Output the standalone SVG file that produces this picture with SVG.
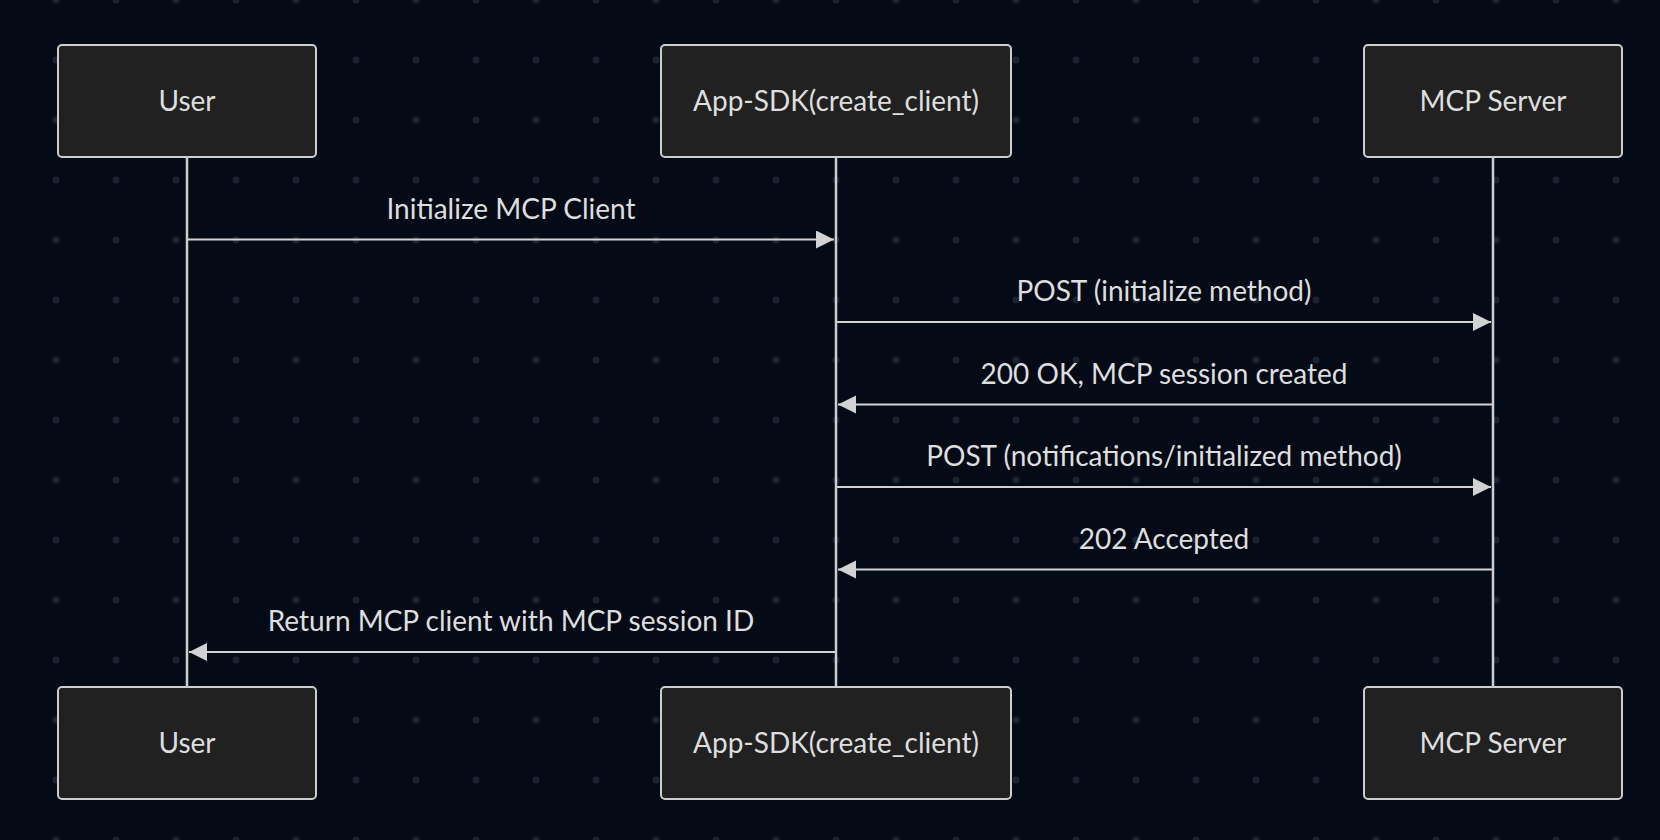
<svg xmlns="http://www.w3.org/2000/svg" width="1660" height="840" viewBox="0 0 1660 840">
  <defs>
    <pattern id="dots" patternUnits="userSpaceOnUse" x="26" y="-30" width="60" height="60">
      <circle cx="30" cy="30" r="3.5" fill="#1d2130"/>
    </pattern>
    <marker id="arrow" markerUnits="userSpaceOnUse" markerWidth="19" markerHeight="19" refX="18" refY="9" orient="auto">
      <path d="M0,0 L18,9 L0,18 z" fill="#d2d2d2"/>
    </marker>
    <style>
      .actor rect { fill: #212121; stroke: #cdcdcd; stroke-width: 2; }
      .actor text { font-family: Lato, "Liberation Sans", sans-serif; font-size: 28px; fill: #dedede; text-anchor: middle; }
      .life { stroke: #cdcdcd; stroke-width: 2.5; }
      .msg line { stroke: #d2d2d2; stroke-width: 2; marker-end: url(#arrow); }
      .msg text { font-family: Lato, "Liberation Sans", sans-serif; font-size: 28px; fill: #dedede; text-anchor: middle; }
    </style>
  </defs>
  <rect width="1660" height="840" fill="#050a17"/>
  <rect width="1660" height="840" fill="url(#dots)"/>

  <g id="lifelines">
    <line class="life" x1="187" y1="157" x2="187" y2="687"/>
    <line class="life" x1="836" y1="157" x2="836" y2="687"/>
    <line class="life" x1="1493" y1="157" x2="1493" y2="687"/>
  </g>

  <g id="user-top" class="actor">
    <rect x="58" y="45" width="258" height="112" rx="4"/>
    <text x="187" y="111">User</text>
  </g>
  <g id="app-top" class="actor">
    <rect x="661" y="45" width="350" height="112" rx="4"/>
    <text x="836" y="111">App-SDK(create_client)</text>
  </g>
  <g id="mcp-top" class="actor">
    <rect x="1364" y="45" width="258" height="112" rx="4"/>
    <text x="1493" y="111">MCP Server</text>
  </g>
  <g id="user-bottom" class="actor">
    <rect x="58" y="687" width="258" height="112" rx="4"/>
    <text x="187" y="753">User</text>
  </g>
  <g id="app-bottom" class="actor">
    <rect x="661" y="687" width="350" height="112" rx="4"/>
    <text x="836" y="753">App-SDK(create_client)</text>
  </g>
  <g id="mcp-bottom" class="actor">
    <rect x="1364" y="687" width="258" height="112" rx="4"/>
    <text x="1493" y="753">MCP Server</text>
  </g>

  <g id="connectors" class="msg">
    <line x1="188" y1="239.5" x2="834" y2="239.5"/>
    <text x="511" y="218.5">Initialize MCP Client</text>
    <line x1="837" y1="322" x2="1491" y2="322"/>
    <text x="1164" y="301">POST (initialize method)</text>
    <line x1="1492" y1="404.5" x2="838" y2="404.5"/>
    <text x="1164" y="383.5">200 OK, MCP session created</text>
    <line x1="837" y1="487" x2="1491" y2="487"/>
    <text x="1164" y="466">POST (notifications/initialized method)</text>
    <line x1="1492" y1="569.5" x2="838" y2="569.5"/>
    <text x="1164" y="548.5">202 Accepted</text>
    <line x1="835" y1="652" x2="189" y2="652"/>
    <text x="511" y="631">Return MCP client with MCP session ID</text>
  </g>
</svg>
